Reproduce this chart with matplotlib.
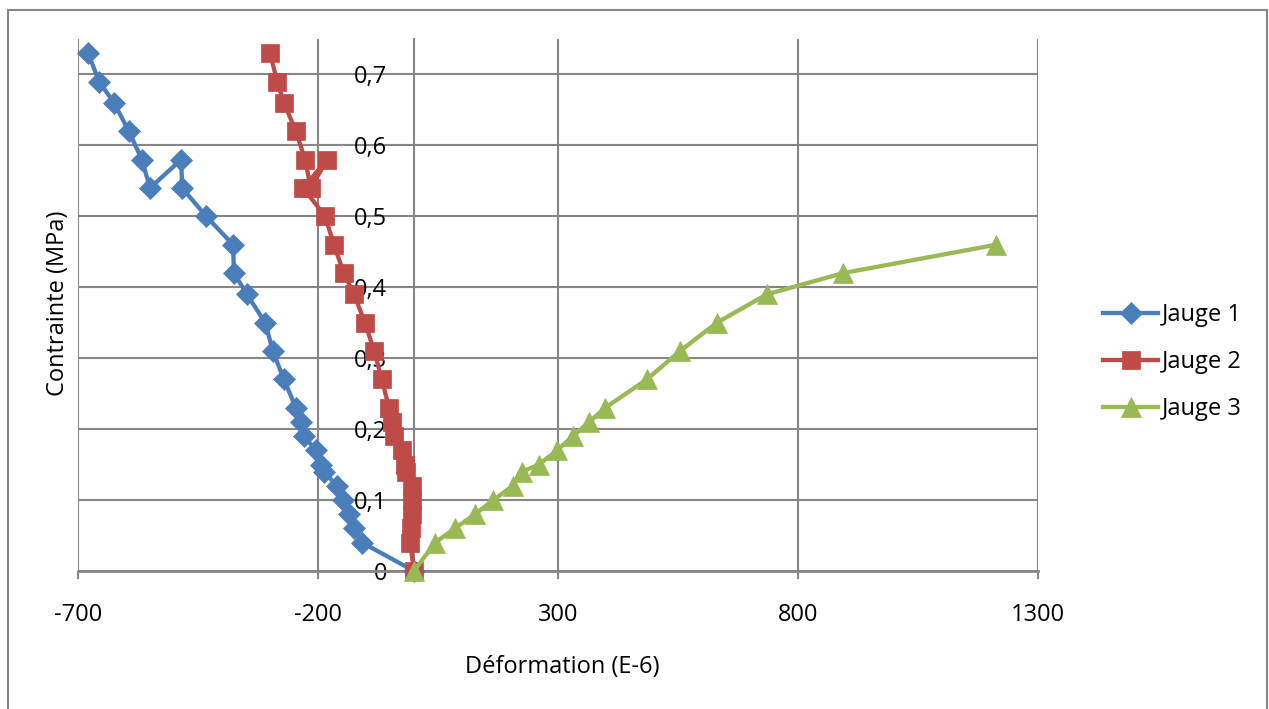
import matplotlib
matplotlib.use("Agg")
import matplotlib.pyplot as plt
from matplotlib.patches import Rectangle

plt.rcParams['font.family'] = ['Open Sans', 'DejaVu Sans']

# ---- data ----
j1_strain = [0, -108, -125, -135, -148, -160, -188, -194, -204, -229, -235, -246,
             -271, -294, -310, -348, -375, -377, -433, -483, -485, -550, -567,
             -594, -625, -656, -679]
j1_stress = [0, 0.04, 0.06, 0.08, 0.10, 0.12, 0.14, 0.15, 0.17, 0.19, 0.21, 0.23,
             0.27, 0.31, 0.35, 0.39, 0.42, 0.46, 0.50, 0.54, 0.58, 0.54, 0.58,
             0.62, 0.66, 0.69, 0.73]

j2_strain = [0, -8, -6, -5, -4, -4, -17, -19, -25, -42, -46, -52,
             -67, -83, -102, -125, -146, -167, -185, -231, -181, -215, -227,
             -246, -271, -285, -300]
j2_stress = [0, 0.04, 0.06, 0.08, 0.10, 0.12, 0.14, 0.15, 0.17, 0.19, 0.21, 0.23,
             0.27, 0.31, 0.35, 0.39, 0.42, 0.46, 0.50, 0.54, 0.58, 0.54, 0.58,
             0.62, 0.66, 0.69, 0.73]

j3_strain = [0, 44, 85, 127, 165, 206, 225, 260, 298, 331, 365, 398,
             485, 554, 631, 735, 894, 1213]
j3_stress = [0, 0.04, 0.06, 0.08, 0.10, 0.12, 0.14, 0.15, 0.17, 0.19, 0.21, 0.23,
             0.27, 0.31, 0.35, 0.39, 0.42, 0.46]

series_names = ["Jauge 1", "Jauge 2", "Jauge 3"]

x_ticks = [-700, -200, 300, 800, 1300]
x_tick_labels = ["-700", "-200", "300", "800", "1300"]
y_ticks = [0, 0.1, 0.2, 0.3, 0.4, 0.5, 0.6, 0.7]
y_tick_labels = ["0", "0,1", "0,2", "0,3", "0,4", "0,5", "0,6", "0,7"]

x_title = "Déformation (E-6)"
y_title = "Contrainte (MPa)"

# ---- figure ----
W, H = 1269, 709
fig = plt.figure(figsize=(W / 100, H / 100), dpi=100)
ax = fig.add_axes([78 / W, 138 / H, 960 / W, 532 / H])

grid_c = '#868686'
fs = 17

c1, c2, c3 = '#4A7EBB', '#BE4B48', '#98B954'
ax.plot(j1_strain, j1_stress, color=c1, lw=3.1, marker='D', ms=10.8,
        mfc=c1, mec=c1, mew=0.5, clip_on=False, zorder=4, label=series_names[0])
ax.plot(j2_strain, j2_stress, color=c2, lw=3.1, marker='s', ms=13.3,
        mfc=c2, mec=c2, mew=0.5, clip_on=False, zorder=4, label=series_names[1])
ax.plot(j3_strain, j3_stress, color=c3, lw=3.1, marker='^', ms=14.4,
        mfc=c3, mec=c3, mew=0.5, clip_on=False, zorder=4, label=series_names[2])

for s in ['top', 'right']:
    ax.spines[s].set_visible(False)
ax.spines['left'].set_position(('data', 0))
ax.spines['left'].set_color(grid_c)
ax.spines['left'].set_linewidth(1.5)
ax.spines['bottom'].set_color(grid_c)
ax.spines['bottom'].set_linewidth(2)

ax.set_xlim(-700, 1300)
ax.set_ylim(0, 0.75)
ax.set_xticks(x_ticks)
ax.set_xticklabels(x_tick_labels)
ax.set_yticks(y_ticks)
ax.set_yticklabels(y_tick_labels)

ax.grid(True, color=grid_c, lw=1.5, zorder=0)
ax.set_axisbelow(True)

ax.tick_params(axis='x', direction='out', length=5.8, width=1.5, color=grid_c,
               pad=17, labelcolor='black', labelsize=fs)
ax.tick_params(axis='y', length=0, pad=19.4, labelcolor='black', labelsize=fs)

fig.text(562 / W, 1 - 667 / H, x_title, fontsize=fs, ha='center', va='center')
fig.text(58 / W, 1 - 303 / H, y_title, fontsize=fs, ha='center', va='center',
         rotation=90)

fig.legend(loc='upper left', bbox_to_anchor=(1103 / W, 1 - 303 / H),
           bbox_transform=fig.transFigure, frameon=False, fontsize=fs,
           handlelength=2.33, handletextpad=0.17, labelspacing=0.98,
           borderpad=0, borderaxespad=0, numpoints=1)

fig.patches.append(Rectangle((8 / W, -0.1), (1267 - 8) / W, 0.1 + 1 - 10 / H,
                             transform=fig.transFigure, fill=False,
                             edgecolor=grid_c, lw=1.5))

fig.savefig('out.png', dpi=100)
